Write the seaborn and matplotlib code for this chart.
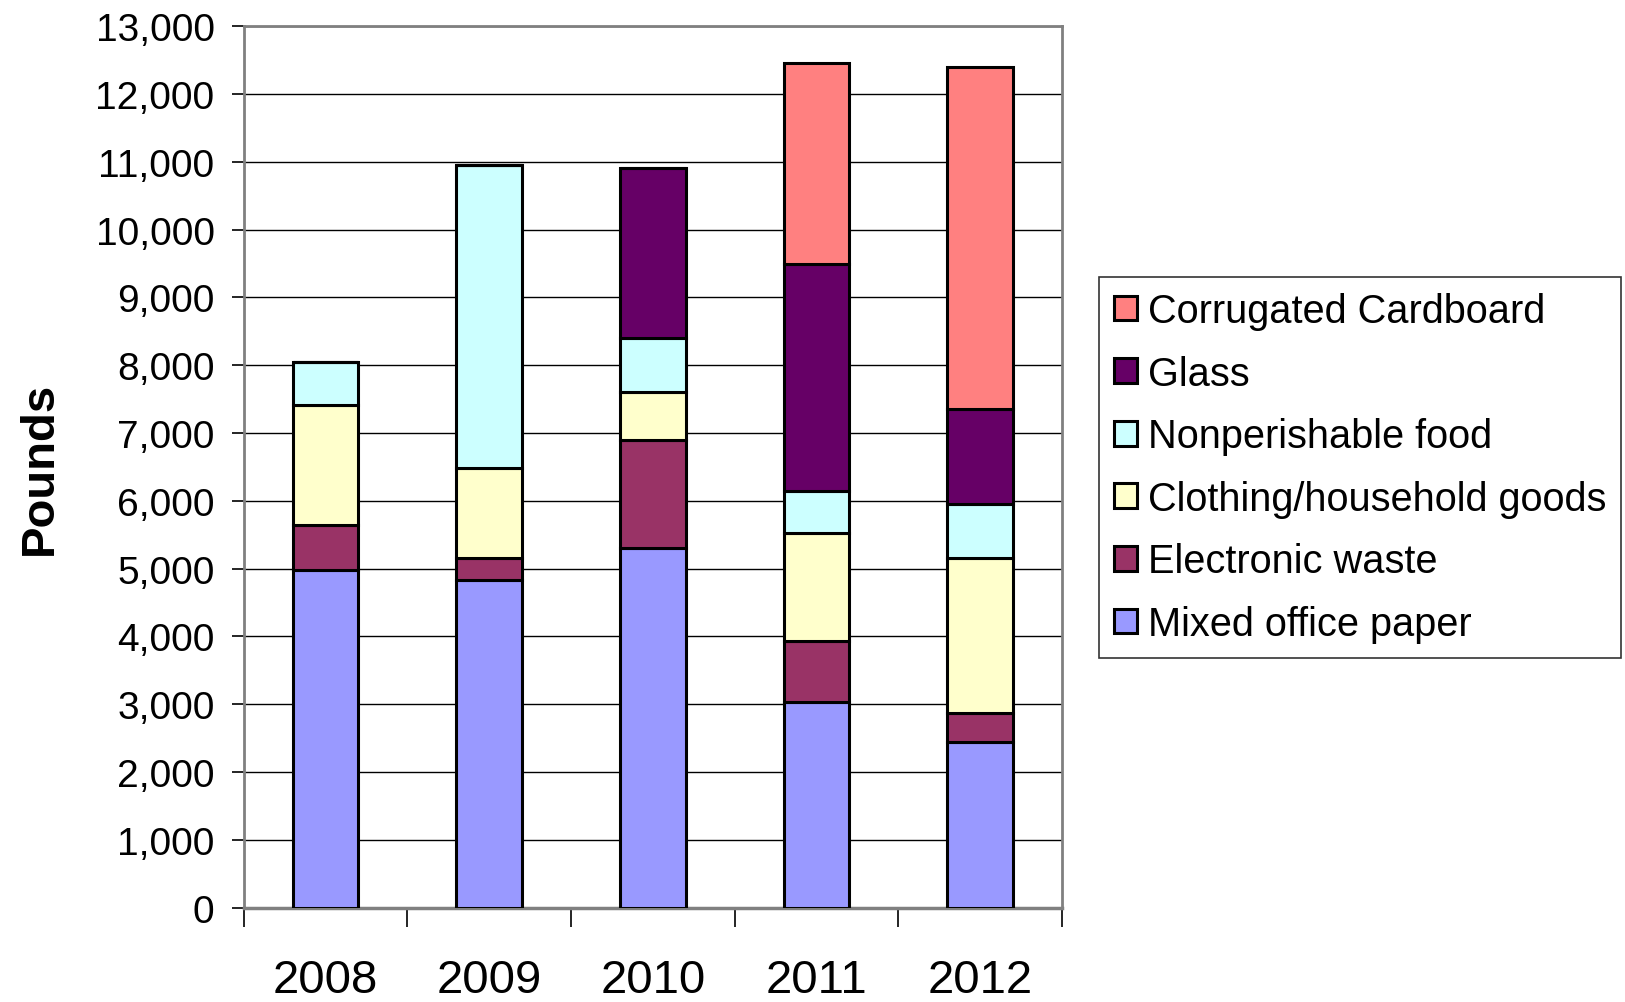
import numpy as np
import pandas as pd
import matplotlib
matplotlib.use("Agg")
import matplotlib.pyplot as plt
import seaborn as sns
from matplotlib.patches import Patch

years = ["2008", "2009", "2010", "2011", "2012"]
mixed_office_paper = [4980, 4830, 5300, 3040, 2440]
electronic_waste = [660, 330, 1600, 900, 430]
clothing_household = [1780, 1320, 710, 1590, 2290]
nonperishable_food = [620, 4470, 790, 610, 800]
glass = [0, 0, 2510, 3350, 1400]
corrugated_cardboard = [0, 0, 0, 2960, 5040]

series_names = ["Mixed office paper", "Electronic waste", "Clothing/household goods",
                "Nonperishable food", "Glass", "Corrugated Cardboard"]
series_values = [mixed_office_paper, electronic_waste, clothing_household,
                 nonperishable_food, glass, corrugated_cardboard]
colors = ["#9999FF", "#993366", "#FFFFCC", "#CCFFFF", "#660066", "#FF8080"]

sns.set_style("white")
plt.rcParams["font.family"] = ["Liberation Sans", "DejaVu Sans"]
plt.rcParams["text.color"] = "black"
plt.rcParams["axes.labelcolor"] = "black"
plt.rcParams["xtick.color"] = "black"
plt.rcParams["ytick.color"] = "black"

fig = plt.figure(figsize=(16.25, 10.03), dpi=100)
ax = fig.add_axes([0.150, 0.094, 0.5035, 0.879])

bottom = np.zeros(len(years))
for name, vals, col in zip(series_names, series_values, colors):
    vals = np.array(vals, dtype=float)
    df = pd.DataFrame({"year": years, "value": vals})
    sns.barplot(data=df, x="year", y="value", order=years, color=col,
                bottom=bottom, width=0.4, edgecolor="black", linewidth=2.2,
                saturation=1, ax=ax, zorder=3)
    bottom = bottom + vals

ax.set_xlim(-0.5, len(years) - 0.5)
ax.set_ylim(0, 13000)
ax.set_yticks(np.arange(0, 13001, 1000))
ax.set_yticklabels([f"{v:,}" for v in range(0, 13001, 1000)])
ax.yaxis.grid(True, color="black", linewidth=1.0, zorder=0)
ax.xaxis.grid(False)
ax.set_axisbelow(True)

ax.set_xlabel("")
ax.set_ylabel("Pounds", fontsize=34, fontweight="bold", labelpad=24)
ax.tick_params(axis="y", labelsize=28, length=9, width=1.2,
               direction="out", left=True, pad=12)
ax.tick_params(axis="x", which="major", labelsize=34, length=0, pad=36)
ax.set_xticks(np.arange(-0.5, len(years), 1.0), minor=True)
ax.tick_params(axis="x", which="minor", length=14, width=1.2,
               direction="out", bottom=True)

for side in ["top", "right", "left"]:
    ax.spines[side].set_color("#808080")
    ax.spines[side].set_linewidth(2)
ax.spines["bottom"].set_color("#808080")
ax.spines["bottom"].set_linewidth(2.5)

handles = [Patch(facecolor=c, edgecolor="black", linewidth=2.2, label=n)
           for n, c in zip(series_names, colors)][::-1]
leg = fig.legend(handles=handles, loc="upper left", bbox_to_anchor=(0.676, 0.723),
                 fontsize=28.6, frameon=True, fancybox=False, edgecolor="black",
                 labelspacing=0.62, handlelength=0.58, handleheight=0.58,
                 handletextpad=0.28, borderpad=0.38, borderaxespad=0)
leg.get_frame().set_linewidth(1.2)

fig.savefig("out.png", dpi=100)
